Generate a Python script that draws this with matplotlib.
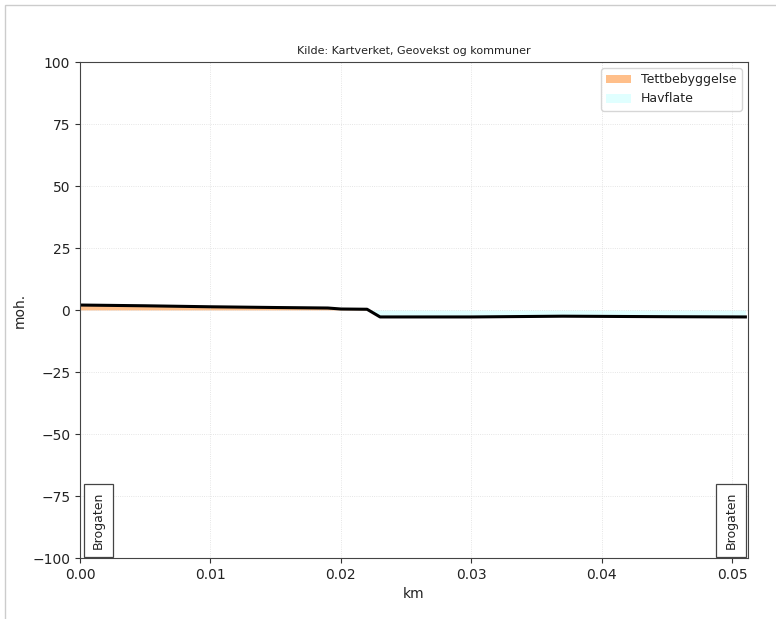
import matplotlib
matplotlib.use("Agg")
import matplotlib.pyplot as plt
import numpy as np
from matplotlib.patches import Patch, Rectangle

# profile along the route (km, moh.)
dist = [0.000, 0.005, 0.010, 0.015, 0.019, 0.020, 0.022, 0.023, 0.030, 0.037, 0.045, 0.051]
elev = [2.0, 1.7, 1.3, 1.0, 0.8, 0.4, 0.3, -2.8, -2.8, -2.5, -2.7, -2.8]
# land-use class per point
landuse = ["Tettbebyggelse"] * 7 + ["Havflate"] * 5
place_names = ["Brogaten", "Brogaten"]
place_km = [0.0014, 0.0499]

colors = {"Tettbebyggelse": "#ffbf8a", "Havflate": "#e0ffff"}

fig = plt.figure(figsize=(7.76, 6.19), dpi=100)
ax = fig.add_axes([80 / 776, 1 - 558 / 619, 668 / 776, 496 / 619])

x = np.array(dist)
y = np.array(elev)
for cls in ["Tettbebyggelse", "Havflate"]:
    mask = np.array([l == cls for l in landuse])
    ext = mask.copy()
    if cls == "Havflate":
        idx = np.where(mask)[0][0]
        ext[idx - 1] = True
    ax.fill_between(x, y, 0, where=ext, color=colors[cls], interpolate=True, linewidth=0)

ax.plot(x, y, color="black", linewidth=2.2)

for name, km in zip(place_names, place_km):
    ax.text(km, -96.4, name, rotation=90, ha="center", va="bottom", fontsize=9, color="#222222",
            bbox=dict(facecolor="white", edgecolor="#444444", boxstyle="square,pad=0.65", linewidth=0.9))

ax.set_xlim(0, 0.0512)
ax.set_ylim(-100, 100)
ax.set_yticks([100, 75, 50, 25, 0, -25, -50, -75, -100])
ax.set_xticks([0.00, 0.01, 0.02, 0.03, 0.04, 0.05])
ax.set_xticklabels(["0.00", "0.01", "0.02", "0.03", "0.04", "0.05"])
ax.grid(True, linestyle=":", color="#dddddd", linewidth=0.6)
for s in ax.spines.values():
    s.set_color("#444444")
ax.tick_params(colors="#333333", labelcolor="#222222")
ax.set_xlabel("km", color="#222222")
ax.set_ylabel("moh.", color="#222222")
ax.set_title("Kilde: Kartverket, Geovekst og kommuner", fontsize=8, color="#222222")

handles = [Patch(facecolor=colors["Tettbebyggelse"], label="Tettbebyggelse"),
           Patch(facecolor=colors["Havflate"], label="Havflate")]
leg = ax.legend(handles=handles, loc="upper right", fontsize=9, framealpha=0.8)
for t in leg.get_texts():
    t.set_color("#222222")

# screenshot frame
fig.patches.append(Rectangle((5 / 776, -0.01), 1.2, 1 - 5 / 619 + 0.01, transform=fig.transFigure,
                             fill=False, edgecolor="#cccccc", linewidth=1))

fig.savefig("out.png", dpi=100)
